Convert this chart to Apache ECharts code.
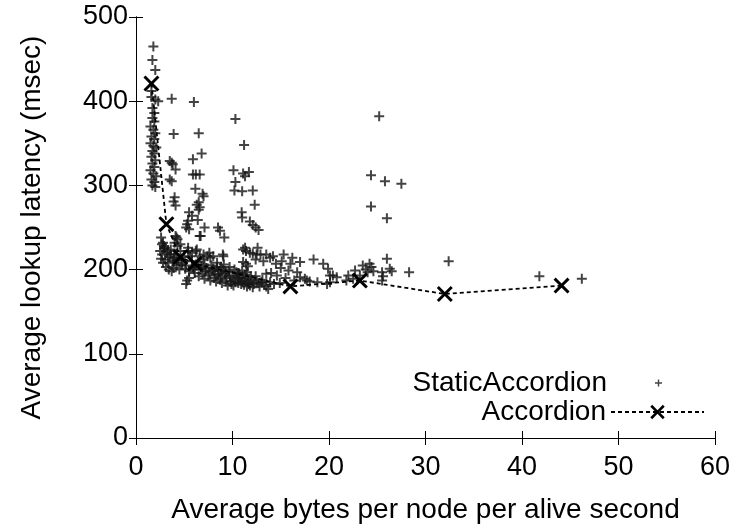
<!DOCTYPE html>
<html>
<head>
<meta charset="utf-8">
<script src="https://cdn.jsdelivr.net/npm/echarts@6/dist/echarts.min.js"></script>
<style>
  html, body { margin: 0; padding: 0; background: #fff; }
  #chart { width: 735px; height: 529px; }
</style>
</head>
<body>
<div id="chart"></div>
<script>
// axis ticks
const xTicks = [0, 10, 20, 30, 40, 50, 60];
const yTicks = [0, 100, 200, 300, 400, 500];

// Accordion: [bytes/node/s, latency ms]
const accordion = [
  [1.6, 421], [3.15, 254], [4.6, 215], [6.1, 207],
  [16.0, 180], [23.2, 187], [32.0, 171], [44.1, 181]
];

// StaticAccordion scatter
const staticSteep = [
  [1.8, 465], [1.7, 449], [2.0, 437], [1.6, 412], [1.6, 405], [2.0, 402], [2.3, 400],
  [1.7, 392], [1.9, 386], [1.7, 380], [1.9, 376], [1.5, 370], [1.8, 366], [2.0, 362],
  [1.6, 358], [1.9, 355], [1.5, 350], [1.8, 347], [2.1, 345], [1.7, 341], [1.9, 338],
  [1.6, 334], [2.0, 330], [1.7, 326], [1.9, 322], [1.5, 318], [1.8, 314], [2.1, 311],
  [1.6, 307], [1.9, 304], [1.7, 300], [2.0, 298]
];
const staticBranches = [
  [3.7, 403], [3.9, 361], [3.5, 329], [3.7, 327], [3.8, 325], [4.1, 319], [3.5, 307],
  [3.7, 305], [4.0, 286], [3.9, 281], [4.1, 276],
  [6.0, 399], [6.5, 362], [6.8, 338], [5.9, 331], [5.9, 313], [6.2, 313], [6.6, 313],
  [6.15, 296], [6.9, 290], [7.0, 287], [6.5, 280], [6.3, 277], [6.6, 274], [6.5, 271],
  [5.5, 268], [5.8, 264], [5.4, 258], [5.3, 254], [5.2, 250], [5.5, 248], [7.1, 250],
  [6.4, 259], [6.6, 240],
  [10.3, 379], [11.2, 348], [10.1, 318], [11.1, 314], [11.3, 311], [11.7, 316], [10.3, 304],
  [10.2, 294], [11.0, 293], [12.1, 294], [12.3, 277], [10.95, 268], [11.0, 262], [11.8, 257],
  [12.1, 253], [12.4, 250], [12.7, 247],
  [25.2, 382], [24.35, 312], [25.8, 305], [27.5, 302], [24.35, 275], [26.0, 261],
  [8.5, 250], [8.7, 246], [9.15, 238], [4.3, 236], [4.1, 240], [4.0, 232], [2.6, 238],
  [2.8, 232], [2.9, 228], [6.7, 240]
];
const staticCluster = [
  [2.5, 222], [2.7, 218], [2.9, 225], [3.0, 212], [3.2, 220], [3.3, 208], [3.5, 215],
  [3.6, 224], [3.8, 210], [4.0, 218], [4.2, 205], [4.4, 212], [2.8, 208], [3.1, 203],
  [3.4, 200], [3.9, 202], [4.6, 222], [4.3, 228], [2.6, 213], [3.7, 198], [4.5, 200],
  [4.8, 208], [5.0, 215], [5.2, 205], [5.4, 222], [5.6, 216], [5.8, 210], [6.0, 200],
  [6.3, 224], [6.4, 209], [6.6, 216], [6.8, 204], [7.0, 212], [7.2, 198], [7.4, 216],
  [7.6, 220], [7.8, 205], [8.0, 216], [8.2, 195], [8.4, 203], [8.6, 198], [8.8, 192],
  [9.0, 218], [9.0, 200], [9.2, 195], [9.4, 190], [9.6, 198], [9.8, 186], [10.0, 193],
  [10.2, 188], [10.4, 197], [10.6, 184], [10.8, 191], [11.0, 186], [11.2, 182], [11.4, 190],
  [11.6, 185], [11.8, 181], [12.0, 188], [12.2, 183], [12.5, 186], [12.8, 180], [13.0, 185],
  [13.3, 182], [13.7, 177], [13.9, 185], [14.3, 183], [14.9, 184],
  [5.3, 187], [5.2, 183], [5.5, 190], [6.1, 196], [6.5, 192], [6.9, 195], [7.1, 189],
  [7.3, 202], [7.5, 193], [7.7, 187], [7.9, 199], [8.1, 190], [8.3, 186], [8.5, 194],
  [8.7, 188], [8.9, 184], [9.1, 206], [9.3, 186], [9.5, 181], [9.7, 192], [9.9, 183],
  [10.1, 181], [10.3, 185], [10.5, 190], [10.7, 195], [10.9, 183], [11.1, 188], [11.3, 194],
  [11.5, 180], [11.7, 183], [12.1, 179], [12.4, 192], [12.7, 184], [13.1, 188], [13.5, 180],
  [2.7, 230], [3.0, 226], [3.3, 222], [3.6, 218], [3.9, 214], [4.2, 211], [4.7, 206],
  [5.1, 201], [5.5, 198], [5.9, 203], [6.2, 206], [6.7, 200], [7.1, 206], [7.6, 197],
  [8.0, 201], [8.4, 208], [8.8, 203], [9.3, 197], [9.7, 203], [10.2, 200], [10.6, 196],
  [11.0, 199], [11.5, 197], [11.9, 192],
  [4.2, 238], [4.6, 230], [5.4, 226], [5.8, 220], [6.2, 222], [7.0, 218], [7.7, 214], [9.05, 216],
  [11.1, 224], [11.4, 222], [11.8, 220], [12.1, 219], [12.5, 218], [12.9, 218], [11.1, 209],
  [11.4, 207], [11.6, 204], [11.3, 226], [12.6, 226], [12.4, 212]
];
const staticTail = [
  [13.2, 210], [13.9, 214], [14.2, 216], [15.3, 218], [15.1, 210], [16.0, 207], [17.0, 209],
  [18.4, 212], [19.4, 207], [19.9, 201], [20.1, 193], [20.8, 191], [15.8, 199], [16.7, 197],
  [17.0, 191], [17.5, 189], [17.7, 187], [13.5, 218], [14.5, 207], [15.0, 202], [16.2, 214],
  [14.0, 196], [14.6, 193], [15.5, 190], [16.4, 187], [18.0, 186], [18.8, 185], [19.8, 183],
  [20.1, 185], [13.5, 195],
  [20.4, 193], [21.8, 187], [22.0, 193], [22.7, 199], [23.5, 205], [23.8, 200], [24.0, 197],
  [24.2, 207], [24.4, 203], [24.6, 198], [25.5, 197], [25.6, 192], [25.5, 187], [26.0, 213],
  [26.3, 201], [26.5, 198], [28.3, 197], [23.2, 193], [22.5, 189],
  [32.4, 210], [41.8, 192], [46.2, 189]
];

const staticAll = staticSteep.concat(staticBranches, staticCluster, staticTail);

const plusPath = 'path://M4,0H6V4H10V6H6V10H4V6H0V4H4Z';
const crossPath = 'path://M0,1.3L1.3,0L5,3.7L8.7,0L10,1.3L6.3,5L10,8.7L8.7,10L5,6.3L1.3,10L0,8.7L3.7,5Z';
// wide box with a small plus in the middle, for the legend
const plusLegend = 'path://M0,0M93,14M43,6.3H45.8V3.5H47.2V6.3H50V7.7H47.2V10.5H45.8V7.7H43Z';

const font = 'Liberation Sans, Arial, Helvetica, sans-serif';

const chart = echarts.init(document.getElementById('chart'));

const option = {
  animation: false,
  backgroundColor: '#fff',
  grid: { left: 136, right: 20, top: 17, bottom: 88 },
  legend: [
    {
      data: [{ name: 'StaticAccordion', icon: plusLegend }],
      right: 30, top: 369, orient: 'vertical', align: 'right', padding: 0,
      itemWidth: 93, itemHeight: 14,
      textStyle: { fontFamily: font, fontSize: 28, color: '#000' }
    },
    {
      data: ['Accordion'],
      right: 30, top: 398, orient: 'vertical', align: 'right', padding: 0,
      itemWidth: 93, itemHeight: 18,
      textStyle: { fontFamily: font, fontSize: 28, color: '#000' }
    }
  ],
  xAxis: [
    {
      type: 'value', min: 0, max: 60, interval: 10,
      name: 'Average bytes per node per alive second',
      nameLocation: 'middle', nameGap: 58,
      nameTextStyle: { fontFamily: font, fontSize: 28, color: '#000' },
      axisLine: { lineStyle: { color: '#000', width: 1 } },
      axisTick: { inside: true, length: 7, lineStyle: { color: '#000' } },
      axisLabel: {
        fontFamily: font, fontSize: 27, color: '#000', margin: 16,
        formatter: v => (xTicks.indexOf(v) >= 0 ? String(v) : '')
      },
      splitLine: { show: false }
    },
    {
      type: 'value', min: 0, max: 60, interval: 10, position: 'top',
      axisLine: { lineStyle: { color: '#000', width: 1 } },
      axisTick: { inside: true, length: 7, lineStyle: { color: '#000' } },
      axisLabel: { show: false },
      splitLine: { show: false }
    }
  ],
  yAxis: [
    {
      type: 'value', min: 0, max: 500, interval: 100,
      name: 'Average lookup latency (msec)',
      nameLocation: 'middle', nameGap: 90, nameRotate: 90,
      nameTextStyle: { fontFamily: font, fontSize: 28, color: '#000' },
      axisLine: { show: true, lineStyle: { color: '#000', width: 1 } },
      axisTick: { show: true, inside: true, length: 7, lineStyle: { color: '#000' } },
      axisLabel: {
        fontFamily: font, fontSize: 27, color: '#000', margin: 8,
        formatter: v => (yTicks.indexOf(v) >= 0 ? String(v) : '')
      },
      splitLine: { show: false }
    },
    {
      type: 'value', min: 0, max: 500, interval: 100, position: 'right',
      axisLine: { show: true, lineStyle: { color: '#000', width: 1 } },
      axisTick: { show: true, inside: true, length: 7, lineStyle: { color: '#000' } },
      axisLabel: { show: false },
      splitLine: { show: false }
    }
  ],
  series: [
    {
      name: 'StaticAccordion',
      type: 'scatter',
      data: staticAll,
      symbol: plusPath,
      symbolSize: 10,
      itemStyle: { color: '#151515' }
    },
    {
      name: 'Accordion',
      type: 'line',
      data: accordion,
      symbol: crossPath,
      symbolSize: 16,
      showAllSymbol: true,
      itemStyle: { color: '#000' },
      lineStyle: { color: '#000', width: 1.8, type: [4, 3] }
    }
  ]
};

chart.setOption(option);
</script>
</body>
</html>
